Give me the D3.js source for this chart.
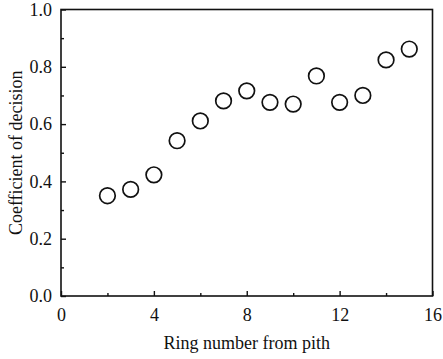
<!DOCTYPE html>
<html>
<head>
<meta charset="utf-8">
<script src="https://cdn.jsdelivr.net/npm/d3@7"></script>
<style>
  body { margin: 0; background: #fff; }
</style>
</head>
<body>
<div id="chart"></div>
<script>
// ring number from pith and coefficient of decision
const rings = [2, 3, 4, 5, 6, 7, 8, 9, 10, 11, 12, 13, 14, 15];
const coef = [0.350, 0.372, 0.423, 0.542, 0.611, 0.681, 0.716, 0.676, 0.670, 0.768, 0.676, 0.700, 0.824, 0.862];
const xTicks = [0, 4, 8, 12, 16];
const yTicks = [0.0, 0.2, 0.4, 0.6, 0.8, 1.0];

const FONT = "'Liberation Serif', 'Times New Roman', Times, 'DejaVu Serif', serif";
const W = 443, H = 359;
const margin = {top: 9.5, right: 10.5, bottom: 63, left: 61};
const width = W - margin.left - margin.right;
const height = H - margin.top - margin.bottom;

const svg = d3.select("#chart")
  .append("svg")
  .attr("width", W)
  .attr("height", H);

const g = svg.append("g")
  .attr("transform", "translate(" + margin.left + "," + margin.top + ")");

const x = d3.scaleLinear().domain([0, 16]).range([0, width]);
const y = d3.scaleLinear().domain([0, 1]).range([height, 0]);

// frame
g.append("rect")
  .attr("x", 0).attr("y", 0)
  .attr("width", width).attr("height", height)
  .attr("fill", "none")
  .attr("stroke", "#111")
  .attr("stroke-width", 1.6);

// minor ticks, pointing inward
g.append("g")
  .attr("transform", "translate(0," + height + ")")
  .call(d3.axisBottom(x).tickValues([2, 6, 10, 14]).tickSize(-3).tickFormat(""))
  .call(a => a.select(".domain").remove());
g.append("g")
  .call(d3.axisLeft(y).tickValues([0.1, 0.3, 0.5, 0.7, 0.9]).tickSize(-3).tickFormat(""))
  .call(a => a.select(".domain").remove());

// major ticks with labels
const xAxis = g.append("g")
  .attr("transform", "translate(0," + height + ")")
  .call(d3.axisBottom(x).tickValues(xTicks).tickSize(-5).tickPadding(12).tickFormat(d3.format("d")))
  .call(a => a.select(".domain").remove());
const yAxis = g.append("g")
  .call(d3.axisLeft(y).tickValues(yTicks).tickSize(-5).tickPadding(9).tickFormat(d3.format(".1f")))
  .call(a => a.select(".domain").remove());

svg.selectAll(".tick line").attr("stroke", "#111").attr("stroke-width", 1.4);
svg.selectAll("g").attr("font-family", null);
svg.selectAll(".tick text")
  .style("font-family", FONT)
  .style("font-size", "18px")
  .attr("fill", "#111");
xAxis.selectAll(".tick text").attr("dy", "0.71em");

// points
g.append("g")
  .selectAll("circle")
  .data(rings.map((r, i) => ({r: r, v: coef[i]})))
  .enter()
  .append("circle")
    .attr("cx", d => x(d.r))
    .attr("cy", d => y(d.v))
    .attr("r", 7.8)
    .attr("fill", "none")
    .attr("stroke", "#111")
    .attr("stroke-width", 1.7);

// axis titles
svg.append("text")
  .attr("x", margin.left + width / 2)
  .attr("y", 349)
  .attr("text-anchor", "middle")
  .style("font-family", FONT)
  .style("font-size", "18px")
  .attr("fill", "#111")
  .text("Ring number from pith");

svg.append("text")
  .attr("transform", "translate(22," + (margin.top + height / 2) + ") rotate(-90)")
  .attr("text-anchor", "middle")
  .style("font-family", FONT)
  .style("font-size", "18px")
  .attr("fill", "#111")
  .text("Coefficient of decision");
</script>
</body>
</html>
